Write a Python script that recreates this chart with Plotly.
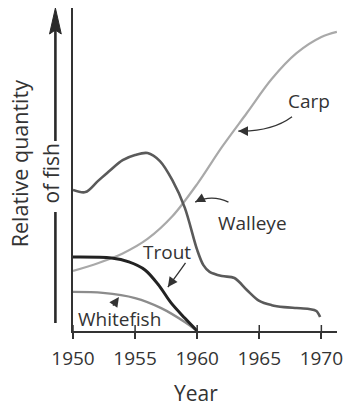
import plotly.graph_objects as go

# --- data -------------------------------------------------------------
tick_years = [1950, 1955, 1960, 1965, 1970]

carp_years = [1950, 1952, 1954, 1956, 1958, 1960, 1962, 1964, 1966, 1968, 1970, 1971.25]
carp = [18.6, 21.0, 24.0, 28.5, 35.5, 45.5, 57.0, 67.5, 78.0, 86.0, 91.0, 92.6]

walleye_years = [1950, 1951, 1952, 1953, 1954, 1955, 1956, 1957, 1958, 1959, 1960,
                 1960.5, 1961, 1962, 1963, 1964, 1965, 1966, 1967, 1968, 1969, 1969.6, 1969.9]
walleye = [43.7, 43.0, 46.4, 49.8, 52.9, 54.5, 55.1, 52.6, 46.7, 38.2, 25.1,
           20.4, 18.3, 17.0, 16.4, 12.7, 9.3, 8.0, 7.4, 7.1, 6.8, 6.2, 4.3]

trout_years = [1950, 1953.1, 1954.5, 1955.8, 1956.9, 1957.9, 1959.0, 1960.0]
trout = [22.9, 22.6, 21.4, 18.9, 14.2, 8.7, 4.0, 0.0]

whitefish_years = [1950, 1952.4, 1955.0, 1957.1, 1959.0, 1960.0]
whitefish = [12.1, 11.8, 10.2, 7.1, 2.8, 0.0]

FONT = "Open Sans"
INK = "#333333"

W, H = 350, 408
ML, MR, MT, MB = 73, 7, 8, 77
PW, PH = W - ML - MR, H - MT - MB


def px(x):
    """horizontal page pixel -> paper fraction"""
    return (x - ML) / PW


def py(y):
    """vertical page pixel -> paper fraction"""
    return (H - MB - y) / PH


fig = go.Figure()

series = [
    ("Carp", carp_years, carp, "#a9a9a9", 2.2),
    ("Whitefish", whitefish_years, whitefish, "#8c8c8c", 2.4),
    ("Walleye", walleye_years, walleye, "#5a5a5a", 2.6),
    ("Trout", trout_years, trout, "#222222", 3.0),
]
for name, xs, ys, color, width in series:
    fig.add_trace(go.Scatter(
        x=xs, y=ys, name=name, mode="lines",
        line=dict(color=color, width=width, shape="spline", smoothing=0.9),
        hoverinfo="skip", showlegend=False,
    ))

shapes = []
# upper half of the x-axis tick marks (they cross the axis line)
for t in tick_years:
    shapes.append(dict(type="line", xref="x", yref="paper", x0=t, x1=t,
                       y0=0, y1=6 / PH, line=dict(color=INK, width=1.5)))

# curved leader lines from the labels to their curves
leaders = [
    # (start, control, end)
    ((1967.64, 66.3), (1965.98, 61.6), (1963.31, 61.9)),   # Carp
    ((1962.52, 39.9), (1961.18, 42.4), (1959.84, 39.9)),   # Walleye
    ((1959.06, 21.1), (1958.50, 18.0), (1957.64, 13.6)),   # Trout
]
for (x0, y0), (cx, cy), (x1, y1) in leaders:
    shapes.append(dict(type="path", xref="x", yref="y",
                       path=f"M {x0},{y0} Q {cx},{cy} {x1},{y1}",
                       line=dict(color=INK, width=1.3)))

# the "Relative quantity of fish" arrow beside the y-axis
AX = 55
shapes.append(dict(type="line", xref="paper", yref="paper",
                   x0=px(AX), x1=px(AX), y0=py(141), y1=py(30),
                   line=dict(color="#2a2a2a", width=2.6)))
shapes.append(dict(type="line", xref="paper", yref="paper",
                   x0=px(AX), x1=px(AX), y0=py(212), y1=py(323),
                   line=dict(color="#2a2a2a", width=2.6)))
shapes.append(dict(type="path", xref="paper", yref="paper",
                   path=(f"M {px(49)},{py(34)} L {px(AX)},{py(8)} L {px(61)},{py(34)} "
                         f"L {px(AX)},{py(30)} Z"),
                   fillcolor="#2a2a2a", line=dict(color="#2a2a2a", width=1)))

annotations = []
labels = [
    ("Carp", 1968.98, 71.1),
    ("Walleye", 1964.49, 33.3),
    ("Trout", 1957.56, 24.6),
    ("Whitefish", 1953.78, 3.7),
]
for text, x, y in labels:
    annotations.append(dict(text=text, x=x, y=y, xref="x", yref="y",
                            xanchor="center", yanchor="middle",
                            showarrow=False, font=dict(family=FONT, size=19, color=INK)))

# arrow heads at the end of each leader (tail offset in pixels)
heads = [
    (1963.31, 61.9, 8, 0),
    (1959.84, 39.9, 7, -3.5),
    (1957.64, 13.6, 5, -7),
    (1953.70, 10.5, -7, 10),
]
for x, y, ax, ay in heads:
    annotations.append(dict(text="", x=x, y=y, xref="x", yref="y", ax=ax, ay=ay,
                            showarrow=True, arrowhead=2, arrowsize=1.5,
                            arrowwidth=1.3, arrowcolor=INK, standoff=0))

annotations.append(dict(text="Relative quantity", xref="paper", yref="paper",
                        x=px(18), y=py(164), textangle=-90, showarrow=False,
                        xanchor="center", yanchor="middle",
                        font=dict(family=FONT, size=21.5, color=INK)))
annotations.append(dict(text="of fish", xref="paper", yref="paper",
                        x=px(51), y=py(173), textangle=-90, showarrow=False,
                        xanchor="center", yanchor="middle",
                        font=dict(family=FONT, size=21, color=INK)))
annotations.append(dict(text="Year", xref="x", yref="paper",
                        x=1959.9, y=py(393), showarrow=False,
                        xanchor="center", yanchor="middle",
                        font=dict(family=FONT, size=21, color=INK)))

fig.update_layout(
    width=W, height=H,
    margin=dict(l=ML, r=MR, t=MT, b=MB, pad=0),
    paper_bgcolor="white", plot_bgcolor="white",
    shapes=shapes, annotations=annotations,
    xaxis=dict(range=[1950, 1950 + PW / 12.7], tickvals=tick_years,
               ticks="outside", ticklen=6, tickwidth=1.5, tickcolor=INK,
               ticklabelstandoff=3,
               showline=True, linecolor=INK, linewidth=1.5,
               showgrid=False, zeroline=False,
               tickfont=dict(family=FONT, size=19, color=INK)),
    yaxis=dict(range=[0, 100], showticklabels=False, ticks="",
               showline=True, linecolor=INK, linewidth=1.5,
               showgrid=False, zeroline=False),
)

fig.write_html("out.html")
